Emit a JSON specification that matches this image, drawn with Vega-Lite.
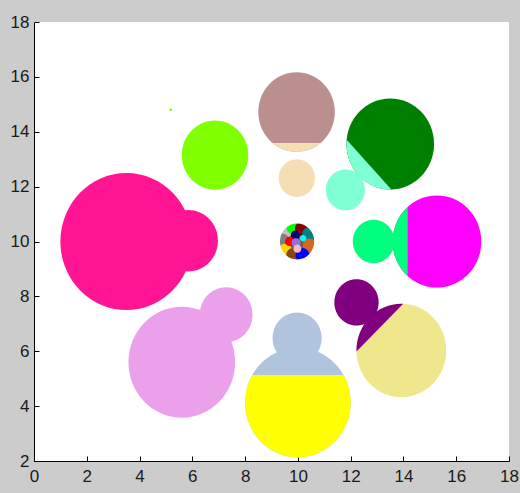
{
  "$schema": "https://vega.github.io/schema/vega-lite/v6.json",
  "autosize": "none",
  "width": 475,
  "height": 439,
  "padding": {"left": 34, "top": 22, "right": 11, "bottom": 32},
  "background": "#CCCCCC",
  "config": {
    "view": {"fill": "white", "stroke": null},
    "axis": {
      "grid": false,
      "title": null,
      "domainColor": "#000000",
      "domainWidth": 1,
      "tickColor": "#000000",
      "tickWidth": 1,
      "tickSize": -5,
      "labelFont": "Liberation Sans Narrow, Arial Narrow, Liberation Sans",
      "labelFontSize": 17,
      "labelColor": "#1a1a1a",
      "labelFlush": false,
      "labelOverlap": false,
      "labelBound": false
    }
  },
  "datasets": {
    "pieces": [
      {"cluster": "deeppink", "piece": "full", "x": 3.5, "y": 10.0, "r": 2.5},
      {"cluster": "deeppink", "piece": "full", "x": 5.85, "y": 10.03, "r": 1.12},
      {"cluster": "chartreuse", "piece": "full", "x": 6.86, "y": 13.15, "r": 1.26},
      {"cluster": "rosybrown", "piece": "full", "x": 9.95, "y": 14.72, "r": 1.45},
      {"cluster": "wheat", "piece": "segWheat", "x": 9.95, "y": 14.72, "r": 1.45},
      {"cluster": "wheat", "piece": "full", "x": 9.96, "y": 12.31, "r": 0.69},
      {"cluster": "green", "piece": "full", "x": 13.5, "y": 13.55, "r": 1.66},
      {"cluster": "aquamarine", "piece": "segAqua", "x": 13.5, "y": 13.55, "r": 1.66},
      {"cluster": "aquamarine", "piece": "full", "x": 11.8, "y": 11.88, "r": 0.74},
      {"cluster": "magenta", "piece": "full", "x": 15.27, "y": 10.0, "r": 1.68},
      {"cluster": "springgreen", "piece": "segSpring", "x": 15.27, "y": 10.0, "r": 1.68},
      {"cluster": "springgreen", "piece": "full", "x": 12.87, "y": 10.0, "r": 0.79},
      {"cluster": "khaki", "piece": "full", "x": 13.92, "y": 6.03, "r": 1.7},
      {"cluster": "purple", "piece": "segPurple", "x": 13.92, "y": 6.03, "r": 1.7},
      {"cluster": "purple", "piece": "full", "x": 12.22, "y": 7.78, "r": 0.84},
      {"cluster": "lightsteelblue", "piece": "full", "x": 10.0, "y": 4.13, "r": 2.0},
      {"cluster": "yellow", "piece": "segYellow", "x": 10.0, "y": 4.13, "r": 2.0},
      {"cluster": "lightsteelblue", "piece": "full", "x": 9.97, "y": 6.48, "r": 0.93},
      {"cluster": "violet", "piece": "full", "x": 5.6, "y": 5.6, "r": 2.02},
      {"cluster": "violet", "piece": "full", "x": 7.28, "y": 7.33, "r": 1.0},
      {"cluster": "chartreuse", "piece": "full", "x": 5.18, "y": 14.8, "r": 0.05}
    ],
    "cells": [
      {"cluster": "base", "x": 9.97, "y": 10.0, "r": 0.66},
      {"cluster": "silver", "x": 9.53, "y": 10.36, "r": 0.26},
      {"cluster": "lime", "x": 9.83, "y": 10.52, "r": 0.26},
      {"cluster": "maroon", "x": 10.15, "y": 10.47, "r": 0.26},
      {"cluster": "teal", "x": 10.42, "y": 10.26, "r": 0.26},
      {"cluster": "gray", "x": 9.42, "y": 10.02, "r": 0.26},
      {"cluster": "chocolate", "x": 10.45, "y": 9.85, "r": 0.26},
      {"cluster": "gold", "x": 9.52, "y": 9.66, "r": 0.26},
      {"cluster": "saddlebrown", "x": 9.82, "y": 9.5, "r": 0.26},
      {"cluster": "blue", "x": 10.17, "y": 9.5, "r": 0.26},
      {"cluster": "navy", "x": 9.9, "y": 10.22, "r": 0.17},
      {"cluster": "red", "x": 9.68, "y": 10.0, "r": 0.17},
      {"cluster": "mediumpurple", "x": 9.93, "y": 9.95, "r": 0.17},
      {"cluster": "lightpink", "x": 9.98, "y": 9.74, "r": 0.15},
      {"cluster": "cyan", "x": 10.2, "y": 10.12, "r": 0.12}
    ],
    "ring": [
      {"x": 9.97, "y": 10.0, "r": 0.8}
    ]
  },
  "encoding": {
    "x": {"field": "x", "type": "quantitative", "scale": {"domain": [0, 18], "nice": false, "zero": false}, "axis": {"values": [0, 2, 4, 6, 8, 10, 12, 14, 16, 18], "labelPadding": 12}},
    "y": {"field": "y", "type": "quantitative", "scale": {"domain": [2, 18], "nice": false, "zero": false}, "axis": {"values": [2, 4, 6, 8, 10, 12, 14, 16, 18], "labelPadding": 10}},
    "size": {"field": "r", "type": "quantitative", "scale": {"type": "pow", "exponent": 2, "domain": [0, 1], "range": [0, 3012]}, "legend": null}
  },
  "layer": [
    {
      "data": {"name": "pieces"},
      "mark": {"type": "point", "filled": true, "opacity": 1, "strokeWidth": 0},
      "encoding": {
        "shape": {
          "field": "piece", "type": "nominal", "legend": null,
          "scale": {
            "domain": ["full", "segWheat", "segAqua", "segSpring", "segPurple", "segYellow"],
            "range": [
              "M -0.9617 0 A 0.9617 1 0 1 0 0.9617 0 A 0.9617 1 0 1 0 -0.9617 0 Z",
              "M 0.603 0.779 A 0.9617 1 0 0 1 -0.603 0.779 Z",
              "M -0.957 -0.096 A 0.9617 1 0 0 0 0.029 1 Z",
              "M -0.636 -0.75 A 0.9617 1 0 0 0 -0.636 0.75 Z",
              "M -0.9614 0.024 A 0.9617 1 0 0 1 0.0396 -0.999 Z",
              "M 0.833 -0.5 A 0.9617 1 0 1 1 -0.833 -0.5 Z"
            ]
          }
        },
        "color": {
          "field": "cluster", "type": "nominal", "legend": null,
          "scale": {
            "domain": ["deeppink", "chartreuse", "rosybrown", "wheat", "green", "aquamarine", "magenta", "springgreen", "khaki", "purple", "lightsteelblue", "yellow", "violet", "base", "silver", "lime", "maroon", "teal", "gray", "chocolate", "gold", "saddlebrown", "blue", "navy", "red", "mediumpurple", "lightpink", "cyan"],
            "range": ["#FF1493", "#7FFF00", "#BC8F8F", "#F5DEB3", "#008000", "#7FFFD4", "#FF00FF", "#00FF7F", "#F0E68C", "#800080", "#B0C4DE", "#FFFF00", "#EBA0EB", "#7a5a40", "#C0C0C0", "#00FF00", "#800000", "#008080", "#808080", "#D2691E", "#FFD700", "#8B4513", "#0000FF", "#000080", "#FF0000", "#9370DB", "#FFB6C1", "#00FFFF"]
          }
        }
      }
    },
    {
      "data": {"name": "cells"},
      "mark": {"type": "point", "filled": true, "opacity": 1, "strokeWidth": 0, "shape": "M -0.9617 0 A 0.9617 1 0 1 0 0.9617 0 A 0.9617 1 0 1 0 -0.9617 0 Z"},
      "encoding": {
        "color": {"field": "cluster", "type": "nominal", "legend": null}
      }
    },
    {
      "data": {"name": "ring"},
      "mark": {"type": "point", "filled": false, "opacity": 1, "stroke": "white", "strokeWidth": 8, "shape": "M -0.9617 0 A 0.9617 1 0 1 0 0.9617 0 A 0.9617 1 0 1 0 -0.9617 0 Z"}
    }
  ]
}
